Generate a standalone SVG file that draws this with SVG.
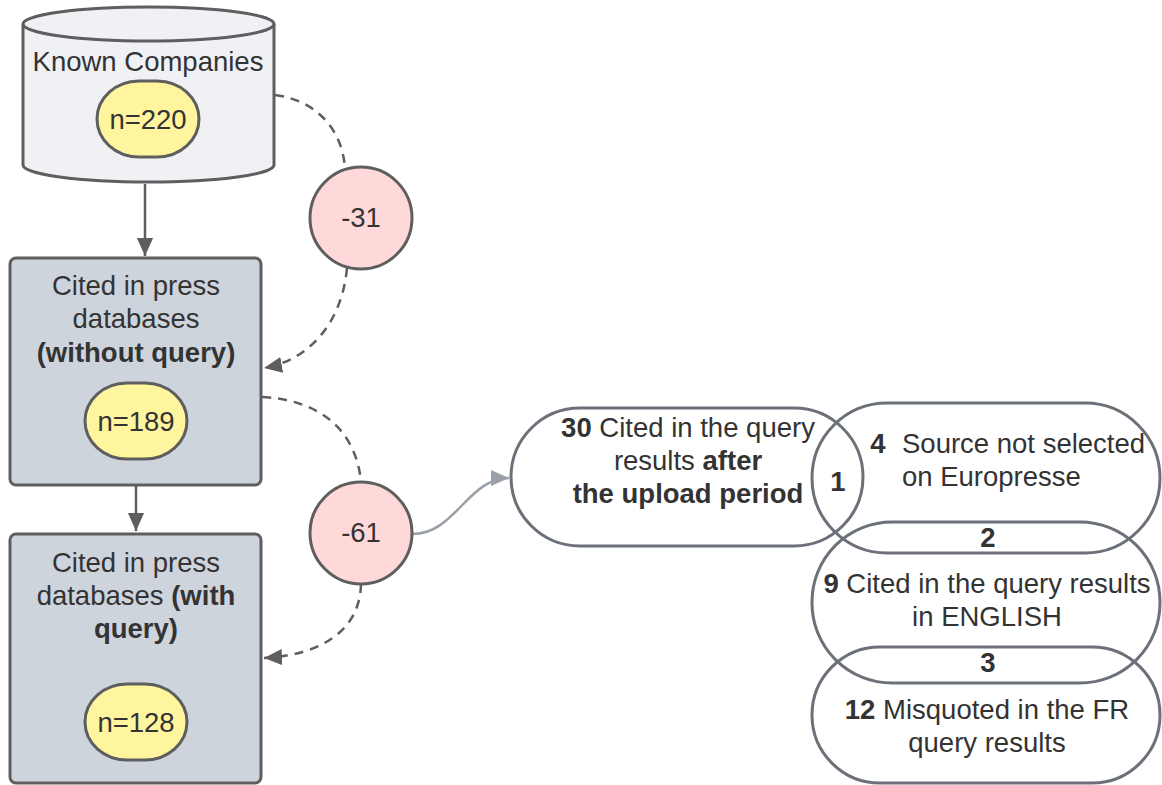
<svg xmlns="http://www.w3.org/2000/svg" width="1162" height="785" viewBox="0 0 1162 785">
<defs>
<style>
text{font-family:"Liberation Sans",Arial,sans-serif;font-size:27.5px;fill:#333333;text-anchor:middle}
.b{font-weight:bold}
.ln{fill:none;stroke:#5e5e5e;stroke-width:2.5}
.dash{fill:none;stroke:#5e5e5e;stroke-width:2.5;stroke-dasharray:9,7}
.node{stroke:#5e5e5e;stroke-width:3}
.pill{fill:none;stroke:#6b7079;stroke-width:3}
.cnt{fill:#fff59f;stroke:#5e5e5e;stroke-width:3}
.neg{fill:#ffd9d9;stroke:#5e5e5e;stroke-width:3}
</style>
<marker id="ad" viewBox="0 0 10 10" refX="10" refY="5" markerWidth="18" markerHeight="18" markerUnits="userSpaceOnUse" orient="auto"><path d="M0,0.5 L10,5 L0,9.5 z" fill="#5e5e5e"/></marker>
<marker id="ag" viewBox="0 0 10 10" refX="10" refY="5" markerWidth="18" markerHeight="18" markerUnits="userSpaceOnUse" orient="auto"><path d="M0,0.5 L10,5 L0,9.5 z" fill="#9aa0a8"/></marker>
</defs>

<g id="connectors">
<line class="ln" x1="145" y1="184" x2="145" y2="256" marker-end="url(#ad)"/>
<line class="ln" x1="136" y1="460" x2="136" y2="531" marker-end="url(#ad)"/>
<path class="dash" d="M275,95 C315,100 342,128 345,168"/>
<path class="dash" d="M347,268 C342,322 310,360 264,368" marker-end="url(#ad)"/>
<path class="dash" d="M262,397 C320,400 356,430 361,482"/>
<path class="dash" d="M361,584 C360,630 322,655 264,658" marker-end="url(#ad)"/>
<path d="M413,534 C455,534 468,478 509,478" fill="none" stroke="#9aa0a8" stroke-width="2.5" marker-end="url(#ag)"/>
</g>

<g id="known-companies">
<path class="node" fill="#f0f1f4" d="M23,24 L23,165 A125.5,17 0 0 0 274,165 L274,24"/>
<ellipse class="node" fill="#f0f1f4" cx="148.5" cy="24" rx="125.5" ry="17"/>
<text x="148" y="71">Known Companies</text>
<rect class="cnt" x="97" y="81" width="102" height="76" rx="42" ry="38"/>
<text x="148" y="129">n=220</text>
</g>

<g id="without-query">
<rect class="node" fill="#ced4dc" x="10" y="258" width="251" height="227" rx="6"/>
<text x="136" y="295">Cited in press</text>
<text x="136" y="328">databases</text>
<text x="136" y="362" class="b">(without query)</text>
<rect class="cnt" x="85" y="383" width="102" height="76" rx="42" ry="38"/>
<text x="136" y="431">n=189</text>
</g>

<g id="with-query">
<rect class="node" fill="#ced4dc" x="10" y="534" width="251" height="249" rx="6"/>
<text x="136" y="572">Cited in press</text>
<text x="136" y="605">databases <tspan class="b">(with</tspan></text>
<text x="136" y="638" class="b">query)</text>
<rect class="cnt" x="85" y="684" width="102" height="76" rx="42" ry="38"/>
<text x="136" y="732">n=128</text>
</g>

<g id="minus31">
<circle class="neg" cx="361" cy="218" r="51"/>
<text x="361" y="227">-31</text>
</g>

<g id="minus61">
<circle class="neg" cx="361" cy="533" r="51"/>
<text x="361" y="542">-61</text>
</g>

<g id="after-upload">
<rect class="pill" x="511" y="408" width="352" height="138" rx="69"/>
<text x="688" y="437"><tspan class="b">30</tspan> Cited in the query</text>
<text x="688" y="470">results <tspan class="b">after</tspan></text>
<text x="688" y="503" class="b">the upload period</text>
</g>

<g id="source-not-selected">
<rect class="pill" x="812" y="403" width="348" height="150" rx="75"/>
<text x="878" y="453" class="b">4</text>
<text x="902" y="453" style="text-anchor:start">Source not selected</text>
<text x="902" y="486" style="text-anchor:start">on Europresse</text>
</g>

<g id="english">
<rect class="pill" x="812" y="522" width="348" height="161" rx="80"/>
<text x="987" y="593"><tspan class="b">9</tspan> Cited in the query results</text>
<text x="987" y="626">in ENGLISH</text>
</g>

<g id="misquoted">
<rect class="pill" x="812" y="647" width="348" height="136" rx="68"/>
<text x="987" y="719"><tspan class="b">12</tspan> Misquoted in the FR</text>
<text x="987" y="752">query results</text>
</g>

<g id="overlap-labels">
<text x="838" y="491" class="b">1</text>
<text x="988" y="547" class="b">2</text>
<text x="988" y="672" class="b">3</text>
</g>
</svg>
